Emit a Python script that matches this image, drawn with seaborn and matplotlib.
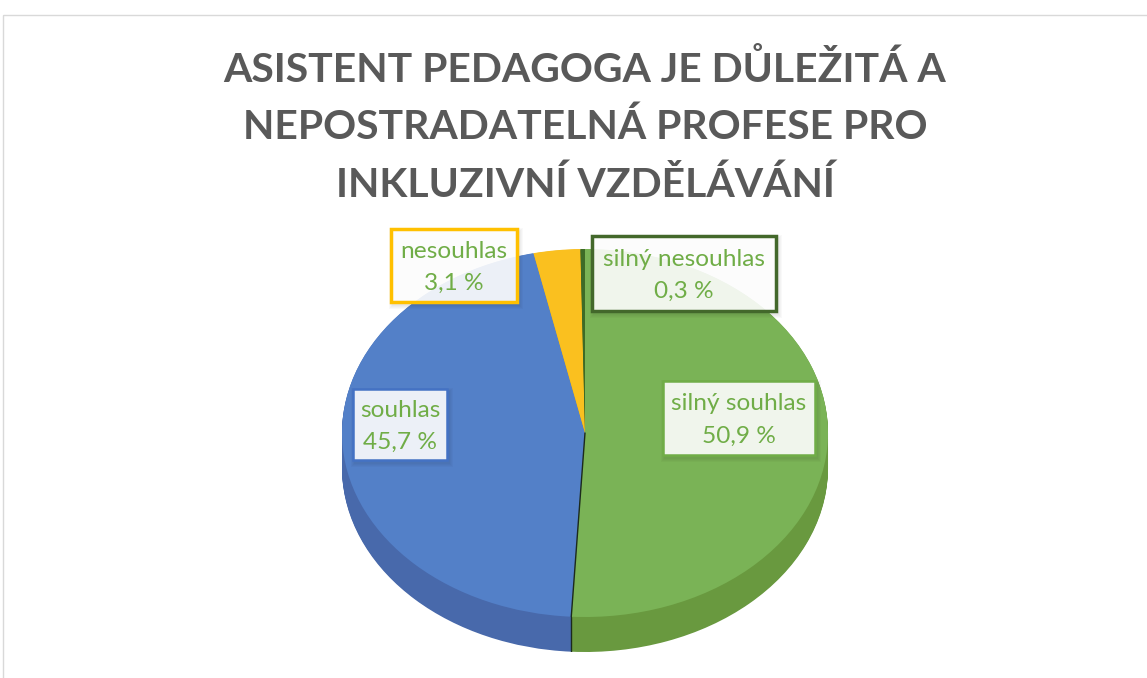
import matplotlib
matplotlib.use('Agg')

import matplotlib.pyplot as plt
import numpy as np
import seaborn as sns
from matplotlib.patches import Rectangle

sns.set_theme(style="white")
plt.rcParams['font.family'] = ['Lato', 'DejaVu Sans']

# data
categories = ['silný souhlas', 'souhlas', 'nesouhlas', 'silný nesouhlas']
shares = [50.9, 45.7, 3.1, 0.3]
title_lines = ['ASISTENT PEDAGOGA JE DŮLEŽITÁ A',
               'NEPOSTRADATELNÁ PROFESE PRO',
               'INKLUZIVNÍ VZDĚLÁVÁNÍ']

# styling
top_colors = ['#7AB356', '#5380C8', '#FAC01F', '#3E6B27']
side_colors = ['#69993F', '#4869AB', '#D9A215', '#34591F']
box_edges = ['#70AD47', '#4472C4', '#FFC000', '#43682B']
text_green = '#70AD47'

W, H = 1147, 678
fig = plt.figure(figsize=(W / 100, H / 100), dpi=100)

# background / frame in pixel coordinates
bg = fig.add_axes([0, 0, 1, 1])
bg.set_xlim(0, W)
bg.set_ylim(H, 0)
bg.axis('off')
bg.add_patch(Rectangle((3, 15), W + 20, H + 20, fill=False, ec='#D9D9D9', lw=1))

for i, line in enumerate(title_lines):
    bg.text(585, 70 + i * 57.5, line, ha='center', va='center', fontsize=29.4,
            fontweight='bold', color='#595959')

# pie geometry (pixels): top ellipse centre, radii, thickness
cx, cy, rx, ry, depth = 585, 433, 243, 184, 35
t = depth / ry
pie_ax = fig.add_axes([(cx - rx) / W, (H - (cy + ry + depth)) / H,
                       2 * rx / W, (2 * ry + depth) / H])

# extruded side: stack of shifted pies
for off in np.linspace(t, 0.002, 40):
    pie_ax.pie(shares, colors=side_colors, startangle=90, counterclock=False,
               center=(0, -off), radius=1, wedgeprops=dict(linewidth=0))
# top face
pie_ax.pie(shares, colors=top_colors, startangle=90, counterclock=False,
           radius=1, wedgeprops=dict(linewidth=0))

# dark seam between first and second slice
ang = np.deg2rad(90 - 360 * shares[0] / sum(shares))
pie_ax.plot([0, np.cos(ang)], [0, np.sin(ang)], color='#1c2a1c', lw=1)
pie_ax.plot([np.cos(ang), np.cos(ang)], [np.sin(ang), np.sin(ang) - t],
            color='#1c2a1c', lw=1)

pie_ax.set_aspect('auto')
pie_ax.set_xlim(-1, 1)
pie_ax.set_ylim(-1 - t, 1)
pie_ax.axis('off')

# data label boxes (x0, y0, x1, y1) in pixels
boxes = [(663, 381, 815, 455), (353, 389, 447, 460),
         (391, 229, 517, 302), (592, 236, 776, 311)]
box_lw = [1.8, 1.8, 2.5, 2.5]
for cat, val, (x0, y0, x1, y1), ec, lw in zip(categories, shares, boxes,
                                              box_edges, box_lw):
    # soft shadow
    for g in range(1, 5):
        bg.add_patch(Rectangle((x0 - g + 2, y0 - g + 3), x1 - x0 + 2 * g,
                               y1 - y0 + 2 * g, fc='black', alpha=0.025,
                               ec='none', zorder=2))
    bg.add_patch(Rectangle((x0, y0), x1 - x0, y1 - y0, fc='white', alpha=0.9,
                           ec='none', zorder=3))
    bg.add_patch(Rectangle((x0, y0), x1 - x0, y1 - y0, fill=False, ec=ec,
                           lw=lw, zorder=4))
    xm = (x0 + x1) / 2
    ym = (y0 + y1) / 2
    bg.text(xm, ym - 14, cat, ha='center', va='center', fontsize=17.6,
            color=text_green, zorder=5)
    bg.text(xm, ym + 18, f'{val:.1f} %'.replace('.', ','), ha='center',
            va='center', fontsize=17.6, color=text_green, zorder=5)

# overlay axes draws above pie
bg.set_zorder(2)
bg.patch.set_visible(False)
pie_ax.set_zorder(1)

fig.savefig('out.png', dpi=100)
